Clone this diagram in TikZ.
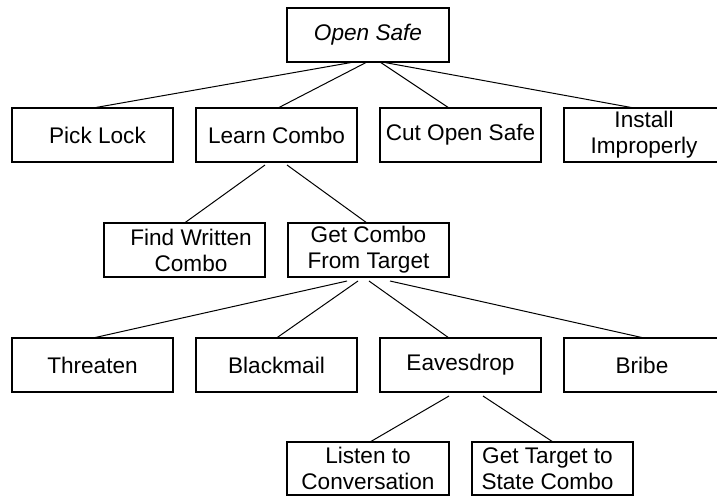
\documentclass[tikz,border=0pt]{standalone}
\usepackage{fontspec}
\setmainfont{Liberation Sans}
\begin{document}
\begin{tikzpicture}[x=1pt,y=-1pt,
  box/.style={draw=black,line width=1.2pt,minimum height=54pt,minimum width=161pt,inner sep=0pt,outer sep=0pt,align=center,font=\fontsize{22.6}{26}\selectfont},
  conn/.style={draw=black,line width=1pt}]
\useasboundingbox (0,0) rectangle (717,496);
\clip (0,0) rectangle (717,496);
\node[box,minimum width=162pt] (os) at (368,35) {\itshape Open Safe};
\node[box] (pl) at (92.5,135) {\hspace*{10pt}Pick Lock};
\node[box] (lc) at (276.5,135) {Learn Combo};
\node[box] (co) at (460.5,135) {Cut Open Safe};
\node[box,minimum width=160pt] (ii) at (644,135) {Install\\Improperly};
\node[box] (fw) at (184.5,250) {\hspace*{13pt}Find Written\\\hspace*{13pt}Combo};
\node[box] (gc) at (368.5,250) {Get Combo\\From Target};
\node[box] (th) at (92.5,365) {Threaten};
\node[box] (bm) at (276.5,365) {Blackmail};
\node[box] (ed) at (460.5,365) {Eavesdrop};
\node[box,minimum width=156pt] (br) at (642,365) {Bribe};
\node[box,minimum width=162pt,minimum height=53pt] (lt) at (368,468.5) {Listen to\\Conversation};
\node[box,minimum height=53pt] (gt) at (552.5,468.5) {\hspace*{-10pt}Get Target to\\\hspace*{-10pt}State Combo};
% connectors
\draw[conn] ([xshift=-14pt]os.south) -- ([xshift=0.5pt]pl.north);
\draw[conn] ([xshift=-1pt]os.south) -- ([xshift=1.5pt]lc.north);
\draw[conn] ([xshift=12pt]os.south) -- ([xshift=-11.5pt]co.north);
\draw[conn] ([xshift=14pt]os.south) -- ([xshift=-10pt]ii.north);
\draw[conn] ([xshift=-11.5pt,yshift=-3pt]lc.south) -- (fw.north);
\draw[conn] ([xshift=10.5pt,yshift=-3pt]lc.south) -- ([xshift=-1.5pt]gc.north);
\draw[conn] ([xshift=-21.5pt,yshift=-4pt]gc.south) -- ([xshift=0.5pt]th.north);
\draw[conn] ([xshift=-10.5pt,yshift=-4pt]gc.south) -- (bm.north);
\draw[conn] ([xshift=0.5pt,yshift=-4pt]gc.south) -- ([xshift=-11.5pt]ed.north);
\draw[conn] ([xshift=21.5pt,yshift=-4pt]gc.south) -- ([xshift=2pt]br.north);
\draw[conn] ([xshift=-11.5pt,yshift=-4pt]ed.south) -- ([xshift=2pt]lt.north);
\draw[conn] ([xshift=22.5pt,yshift=-4pt]ed.south) -- ([xshift=0.5pt]gt.north);
\end{tikzpicture}
\end{document}
